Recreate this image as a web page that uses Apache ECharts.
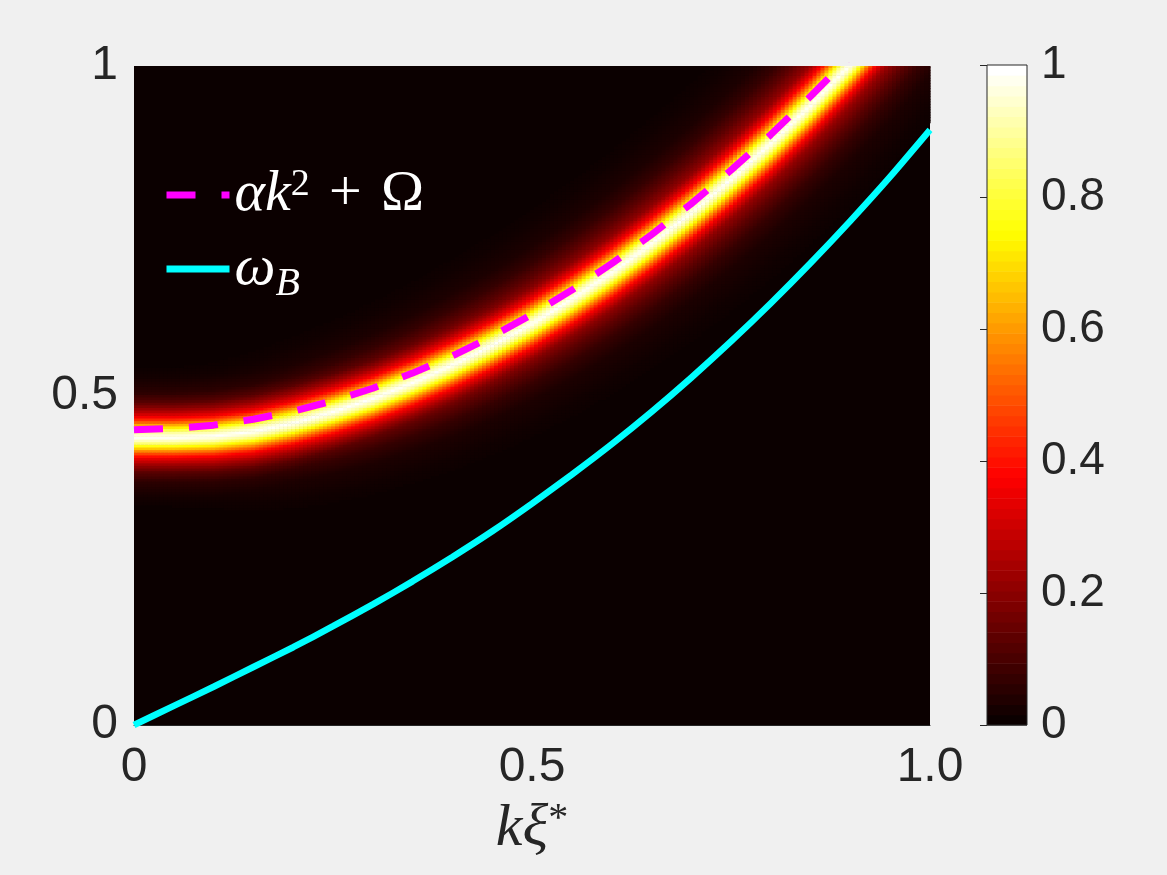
<!DOCTYPE html>
<html>
<head>
<meta charset="utf-8">
<script src="https://cdn.jsdelivr.net/npm/echarts@6/dist/echarts.min.js"></script>
<style>
html, body { margin: 0; padding: 0; background: #f0f0f0; }
#chart { width: 1167px; height: 875px; }
</style>
</head>
<body>
<div id="chart"></div>
<script>
// sample points along k
var kPoints = [0, 0.05, 0.1, 0.15, 0.2, 0.25, 0.3, 0.35, 0.4, 0.45, 0.5,
               0.55, 0.6, 0.65, 0.7, 0.75, 0.8, 0.85, 0.9, 0.95, 1.0];

// dashed magenta: alpha k^2 + Omega
var modelCurve = [0.448, 0.450, 0.455, 0.464, 0.476, 0.492, 0.511, 0.534, 0.560, 0.590, 0.623,
                  0.660, 0.700, 0.744, 0.791, 0.842, 0.896, 0.954, 1.015, 1.080, 1.148];

// cyan: omega_B
var omegaB = [0, 0.029, 0.058, 0.088, 0.118, 0.150, 0.183, 0.218, 0.255, 0.294, 0.336,
              0.380, 0.426, 0.475, 0.527, 0.582, 0.640, 0.701, 0.765, 0.832, 0.903];

// bright ridge of the spectral map: centre, core spread and halo spread
var ridgeCenter = [0.437, 0.437, 0.439, 0.446, 0.459, 0.476, 0.496, 0.520, 0.547, 0.577, 0.610,
                   0.647, 0.687, 0.731, 0.778, 0.829, 0.883, 0.941, 1.003, 1.068, 1.136];
var ridgeSpread = [1.0, 1.0, 1.02, 1.05, 1.08, 1.1, 1.12, 1.15, 1.18, 1.2, 1.22,
                   1.25, 1.28, 1.31, 1.34, 1.37, 1.4, 1.42, 1.44, 1.45, 1.45];
var haloSpread  = [1.0, 1.05, 1.1, 1.2, 1.3, 1.38, 1.45, 1.52, 1.6, 1.66, 1.72,
                   1.78, 1.84, 1.9, 1.95, 2.0, 2.05, 2.1, 2.15, 2.2, 2.2];

// intensity across the ridge (offset in y units -> value)
var profileOffset = [0, 0.0076, 0.015, 0.023, 0.030, 0.041, 0.053, 0.068, 0.090, 0.110];
var profileValue  = [1.0, 0.9, 0.72, 0.52, 0.37, 0.23, 0.12, 0.05, 0.015, 0];

var xTickLabels = ['0', '0.5', '1.0'];
var yTickLabels = ['0', '0.5', '1'];
var cbarTickLabels = ['0', '0.2', '0.4', '0.6', '0.8', '1'];

// MATLAB "hot"
var hotColors = ['#0b0000', '#5c0000', '#ae0000', '#ff0000', '#ff5500',
                 '#ffaa00', '#ffff00', '#ffff80', '#ffffff'];

var textColor = '#262626';
var sansFont = 'Helvetica, "Liberation Sans", Arial, sans-serif';
var serifFont = '"Liberation Serif", "Times New Roman", "DejaVu Serif", serif';

function interp(xs, ys, x) {
    if (x <= xs[0]) return ys[0];
    if (x >= xs[xs.length - 1]) return ys[ys.length - 1];
    for (var i = 1; i < xs.length; i++) {
        if (x <= xs[i]) {
            var t = (x - xs[i - 1]) / (xs[i] - xs[i - 1]);
            return ys[i - 1] + t * (ys[i] - ys[i - 1]);
        }
    }
    return ys[ys.length - 1];
}

var dk = 0.005, dy = 0.004;
var heatData = [];
for (var i = 0; i <= 200; i++) {
    var k = i * dk;
    var c = interp(kPoints, ridgeCenter, k);
    var s = interp(kPoints, ridgeSpread, k);
    var hs = interp(kPoints, haloSpread, k);
    for (var j = 0; j <= 250; j++) {
        var y = j * dy;
        var d = Math.abs(y - c);
        var core = interp(profileOffset, profileValue, d / s);
        var halo = 0.55 * interp(profileOffset, profileValue, d / hs);
        var v = Math.max(core, halo);
        if (v > 0.004) heatData.push([k, y, v]);
    }
}

var cbarData = [];
for (var n = 0; n < 64; n++) {
    cbarData.push([n / 64, (n + 1) / 64, n / 63]);
}

var modelData = kPoints.map(function (kk, idx) { return [kk, modelCurve[idx]]; });
var omegaData = kPoints.map(function (kk, idx) { return [kk, omegaB[idx]]; });

var legendText = {
    'αk² + Ω': '{it|αk}{up|2}{rm|\u2004+\u2004Ω}',
    'ωB': '{it|ω}{sub|B}'
};

function clamp01(v) { return Math.max(0, Math.min(1, v)); }

var chart = echarts.init(document.getElementById('chart'));

var option = {
    backgroundColor: '#f0f0f0',
    animation: false,
    grid: [
        { left: 134, top: 66, width: 796, height: 659, show: true,
          backgroundColor: '#0b0000', borderWidth: 0 },
        { left: 987, top: 65, width: 40, height: 660, show: true,
          backgroundColor: 'transparent', borderColor: textColor, borderWidth: 1, z: 5 }
    ],
    xAxis: [
        {
            gridIndex: 0, type: 'value', min: 0, max: 1, interval: 0.5,
            axisLine: { show: true, onZero: false, lineStyle: { color: textColor, width: 1 } },
            axisTick: { show: false },
            splitLine: { show: false },
            axisLabel: {
                margin: 19, color: textColor, fontSize: 48, fontFamily: sansFont,
                formatter: function (v) { return xTickLabels[Math.round(v / 0.5)]; }
            },
            name: '{it|kξ}{up|*}',
            nameLocation: 'middle',
            nameGap: 74,
            nameTextStyle: {
                rich: {
                    it: { fontFamily: serifFont, fontStyle: 'italic', fontSize: 60, color: textColor },
                    up: { fontFamily: serifFont, fontSize: 40, color: textColor, verticalAlign: 'top' }
                }
            }
        },
        { gridIndex: 1, type: 'value', min: 0, max: 1, show: false }
    ],
    yAxis: [
        {
            gridIndex: 0, type: 'value', min: 0, max: 1, interval: 0.5,
            axisLine: { show: false },
            axisTick: { show: false },
            splitLine: { show: false },
            axisLabel: {
                margin: 16, color: textColor, fontSize: 48, fontFamily: sansFont,
                formatter: function (v) { return yTickLabels[Math.round(v / 0.5)]; }
            }
        },
        {
            gridIndex: 1, type: 'value', position: 'right', min: 0, max: 1, interval: 0.2,
            axisLine: { show: false },
            axisTick: { show: true, inside: true, length: 7, lineStyle: { color: textColor, width: 1 } },
            splitLine: { show: false },
            axisLabel: {
                margin: 14, color: textColor, fontSize: 46, fontFamily: sansFont,
                formatter: function (v) { return cbarTickLabels[Math.round(v / 0.2)]; }
            }
        }
    ],
    visualMap: {
        type: 'continuous', show: false, min: 0, max: 1, dimension: 2,
        seriesIndex: [0, 3],
        inRange: { color: hotColors }
    },
    legend: {
        orient: 'vertical',
        left: 163, top: 166,
        padding: 0,
        itemWidth: 63, itemHeight: 14, itemGap: 16,
        data: ['αk² + Ω', 'ωB'],
        lineStyle: { width: 7, opacity: 1 },
        itemStyle: { opacity: 0 },
        formatter: function (name) { return legendText[name]; },
        textStyle: {
            rich: {
                it: { fontFamily: serifFont, fontStyle: 'italic', fontSize: 58, color: '#ffffff', lineHeight: 58 },
                up: { fontFamily: serifFont, fontSize: 38, color: '#ffffff', verticalAlign: 'top' },
                rm: { fontFamily: serifFont, fontSize: 58, color: '#ffffff' },
                sub: { fontFamily: serifFont, fontStyle: 'italic', fontSize: 40, color: '#ffffff', verticalAlign: 'bottom', padding: [0, 0, -6, 0] }
            }
        }
    },
    series: [
        {
            type: 'custom',
            xAxisIndex: 0, yAxisIndex: 0,
            silent: true,
            data: heatData,
            encode: { x: 0, y: 1 },
            renderItem: function (params, api) {
                var p0 = api.coord([clamp01(api.value(0) - dk / 2), clamp01(api.value(1) + dy / 2)]);
                var p1 = api.coord([clamp01(api.value(0) + dk / 2), clamp01(api.value(1) - dy / 2)]);
                var w = p1[0] - p0[0], h = p1[1] - p0[1];
                if (w <= 0 || h <= 0) return null;
                return {
                    type: 'rect',
                    shape: { x: p0[0], y: p0[1], width: w + 0.6, height: h + 0.6 },
                    style: { fill: api.visual('color') }
                };
            },
            z: 1
        },
        {
            name: 'αk² + Ω',
            type: 'line',
            xAxisIndex: 0, yAxisIndex: 0,
            data: modelData,
            symbol: 'none',
            clip: true,
            lineStyle: { color: '#ff00ff', width: 7, type: [29, 26], cap: 'butt' },
            itemStyle: { color: '#ff00ff' },
            z: 3
        },
        {
            name: 'ωB',
            type: 'line',
            xAxisIndex: 0, yAxisIndex: 0,
            data: omegaData,
            symbol: 'none',
            smooth: 0.2,
            clip: true,
            lineStyle: { color: '#00ffff', width: 6.5 },
            itemStyle: { color: '#00ffff' },
            z: 3
        },
        {
            type: 'custom',
            xAxisIndex: 1, yAxisIndex: 1,
            silent: true,
            data: cbarData,
            encode: { y: [0, 1] },
            renderItem: function (params, api) {
                var p0 = api.coord([0, api.value(1)]);
                var p1 = api.coord([1, api.value(0)]);
                return {
                    type: 'rect',
                    shape: { x: p0[0], y: p0[1], width: p1[0] - p0[0], height: p1[1] - p0[1] + 0.5 },
                    style: { fill: api.visual('color') }
                };
            },
            z: 1
        }
    ]
};

chart.setOption(option);
</script>
</body>
</html>
